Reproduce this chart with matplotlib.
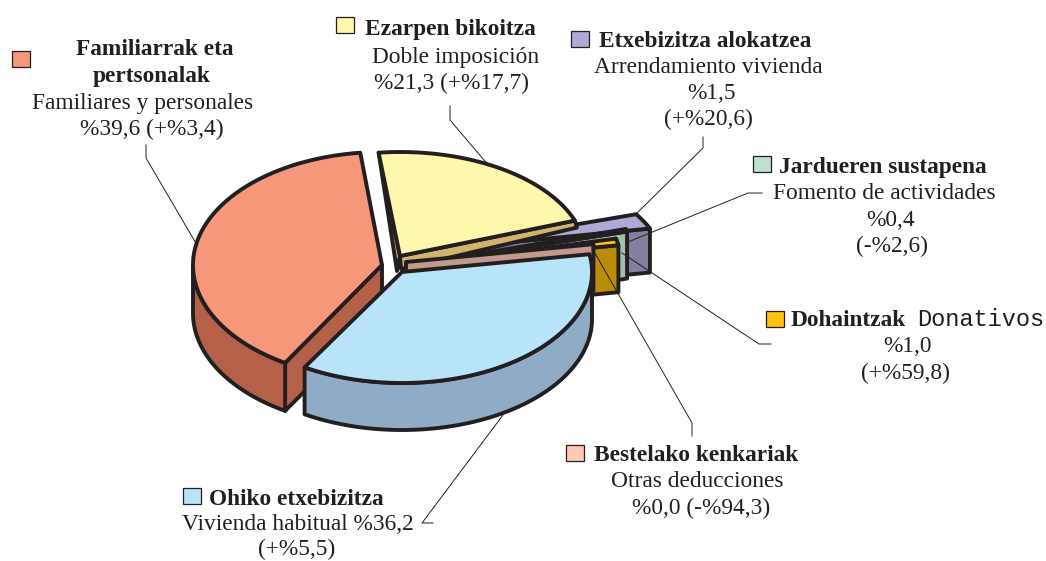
import numpy as np
import matplotlib
matplotlib.use("Agg")
import matplotlib.pyplot as plt
from matplotlib.patches import Polygon, Rectangle

# ---- data (clockwise from the start angle) ----
categories = ["Ezarpen bikoitza", "Etxebizitza alokatzea", "Jardueren sustapena",
              "Dohaintzak", "Bestelako kenkariak", "Ohiko etxebizitza",
              "Familiarrak eta pertsonalak"]
shares = [21.3, 1.5, 0.4, 1.0, 0.0, 36.2, 39.6]

# ---- style / layout ----
top_colors = ["#FFF8AC", "#B0A8D6", "#BDE2CC", "#FFC20E", "#FFC8B4", "#B8E4FA", "#F79779"]
side_colors = ["#D3B36C", "#847E9F", "#A0BFAD", "#B98C0A", "#C19A8C", "#90ABC6", "#B5614A"]
centers = [(400, 256), (420, 251), (442, 256), (431, 263), (406, 262), (402, 272), (382, 265)]
apex_drop = [0, 0, 4, 0, 0, 0, 0]
radii_x = [186, 230, 190, 190, 190, 190, 189]
radii_back = [104, 108, 108, 108, 108, 108, 113]
radii_front = [112, 112, 112, 112, 112, 111, 114]
extra_span = [0, 2.5, 0, 0, 0, 0, 0]
rim_stretch = [0, 0.63, 0, 0, 0, 0, 0]
START = -6.6
DEPTH = 47
INK = "#231F20"
LW = 2.8
SERIF = "Liberation Serif"
FS = 16.8

fig = plt.figure(figsize=(10.46, 5.61), dpi=100, facecolor="white")
ax = fig.add_axes([0, 0, 1, 1])
ax.set_xlim(0, 1046)
ax.set_ylim(561, 0)
ax.axis("off")

spans = [s * 3.6 for s in shares]
starts = START + np.concatenate([[0], np.cumsum(spans)[:-1]])


def rim(i, t):
    t = np.asarray(t, dtype=float)
    r = np.radians(t)
    cx, cy = centers[i]
    c = np.cos(r)
    ry = np.where(c > 0, radii_back[i], radii_front[i])
    x = cx + radii_x[i] * np.sin(r) + rim_stretch[i] * (t - starts[i])
    return np.column_stack([x, cy - ry * c])


def poly(points, color, z, lw=LW):
    ax.add_patch(Polygon(points, closed=True, facecolor=color, edgecolor=INK, linewidth=lw,
                         joinstyle="round", zorder=z))


def arc_t(a, b):
    return np.linspace(a, b, max(int(abs(b - a)) * 2, 2))


def thin_slice(i, z):
    t0 = starts[i]
    t1 = t0 + spans[i] + extra_span[i]
    apex = np.array(centers[i], float) + [0, apex_drop[i]]
    d = np.array([0, DEPTH - 3 if i == 1 else DEPTH])
    p1 = rim(i, [t1])[0]
    poly([apex, p1, p1 + d, apex + d], side_colors[i], z)
    if spans[i] > 0:
        poly(np.vstack([[apex], rim(i, arc_t(t0, t1))]), top_colors[i], z + 0.5)


# Familiarrak: wall up to the left silhouette and the cut face
i = 6
t0, t1 = starts[i], starts[i] + spans[i]
apex = np.array(centers[i], float)
d = np.array([0, DEPTH + 1])
p0 = rim(i, [t0])[0]
wall = rim(i, arc_t(t0, 270))
poly([apex, p0, p0 + d, apex + d], side_colors[i], 2)
poly(np.vstack([wall, (wall + d)[::-1]]), side_colors[i], 2)
poly(np.vstack([[apex], rim(i, arc_t(t0, t1))]), top_colors[i], 2.5)

# Etxebizitza alokatzea lies behind the strip of Ezarpen
thin_slice(1, 3)

# Ezarpen: shallow tapered strips are all that can be seen of it
i = 0
t0, t1 = starts[i], starts[i] + spans[i]
apex = np.array(centers[i], float)
a_low = apex + [-3, 15]
p0 = rim(i, [t0])[0]
p1 = rim(i, [t1])[0]
poly([p0, a_low, apex], side_colors[i], 4)
poly([p1, p1 + [2, 7], a_low + [4, -2], apex], side_colors[i], 4)
poly(np.vstack([[apex], rim(i, arc_t(t0, t1))]), top_colors[i], 4.5)

# remaining thin slices, back to front
for k, i in enumerate([2, 3, 4]):
    thin_slice(i, 5 + k)

# Ohiko: front slice
i = 5
t0, t1 = starts[i], starts[i] + spans[i]
d = np.array([0, DEPTH])
wall = rim(i, arc_t(90, t1))
poly(np.vstack([wall, (wall + d)[::-1]]), side_colors[i], 9)
poly(np.vstack([[centers[i]], rim(i, arc_t(t0, t1))]), top_colors[i], 9.5)

# ---- leader lines ----
leaders = [
    [(146, 145), (146, 158), (197, 245)],
    [(450, 106), (450, 120), (489, 166)],
    [(703, 137), (703, 148), (637, 213)],
    [(762, 193), (748, 193), (628, 242)],
    [(771, 344), (759, 344), (622, 253)],
    [(692, 436), (692, 423), (592, 248)],
    [(433, 523), (422, 523), (503, 415)],
]
for pts in leaders:
    xs, ys = zip(*pts)
    ax.plot(xs, ys, color=INK, lw=0.7, zorder=20, solid_joinstyle="miter")

# ---- legend squares ----
squares = [(12, 51, 6), (336, 17, 0), (571, 31, 1), (753, 156, 2), (766, 311, 3), (566, 445, 4), (183, 488, 5)]
for x, y, k in squares:
    ax.add_patch(Rectangle((x, y), 18, 16, facecolor=top_colors[k], edgecolor=INK, linewidth=0.9, zorder=21))

# ---- texts ----
bold_lines = [
    ("Familiarrak eta", 155, 49), ("pertsonalak", 152, 76),
    ("Ezarpen bikoitza", 450, 29), ("Etxebizitza alokatzea", 705, 41),
    ("Jardueren sustapena", 883, 167), ("Dohaintzak", 848, 320),
    ("Bestelako kenkariak", 696, 455), ("Ohiko etxebizitza", 296, 499),
]
plain_lines = [
    ("Familiares y personales", 143, 103), ("%39,6 (+%3,4)", 152, 129),
    ("Doble imposición", 456, 57), ("%21,3 (+%17,7)", 452, 83),
    ("Arrendamiento vivienda", 708, 67), ("%1,5", 711, 93), ("(+%20,6)", 708, 119),
    ("Fomento de actividades", 884, 193), ("%0,4", 891, 220), ("(-%2,6)", 892, 246),
    ("%1,0", 908, 346), ("(+%59,8)", 905, 373),
    ("Otras deducciones", 697, 481), ("%0,0 (-%94,3)", 701, 508),
    ("Vivienda habitual %36,2", 298, 525), ("(+%5,5)", 297, 549),
]
for s, x, y in bold_lines:
    ax.text(x, y, s, ha="center", va="center", family=SERIF, fontsize=FS, fontweight="bold", color=INK, zorder=22)
for s, x, y in plain_lines:
    ax.text(x, y, s, ha="center", va="center", family=SERIF, fontsize=FS, color=INK, zorder=22)
ax.text(980.5, 319, "Donativos", ha="center", va="center", family="Liberation Mono",
        fontsize=17, color=INK, zorder=22)

fig.savefig("out.png", dpi=100, facecolor="white")
